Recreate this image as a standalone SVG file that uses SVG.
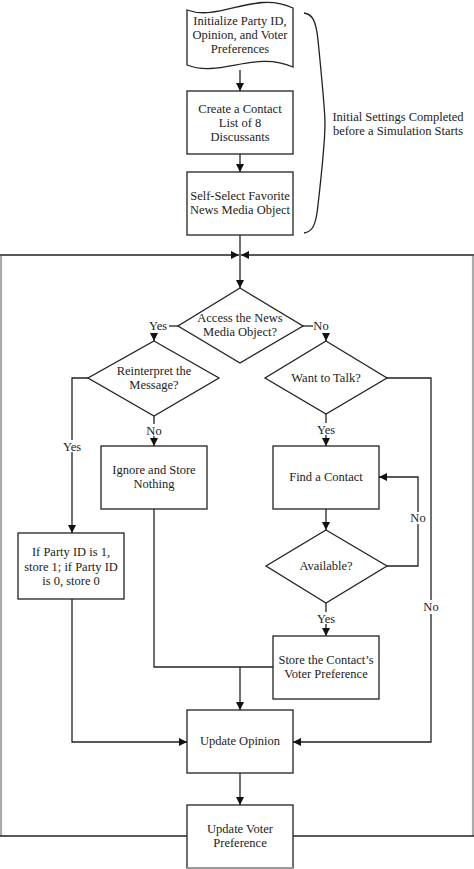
<svg xmlns="http://www.w3.org/2000/svg" width="474" height="869" viewBox="0 0 474 869">
<defs>
<style>
.s{fill:#fff;stroke:#222;stroke-width:1.3}
.c{fill:none;stroke:#222;stroke-width:1.3}
.t{font-family:"Liberation Serif","Times New Roman",serif;font-size:12.5px;fill:#222;text-anchor:middle}
</style>
<marker id="a" viewBox="0 0 10 10" refX="10" refY="5" markerWidth="8" markerHeight="8" markerUnits="userSpaceOnUse" orient="auto">
<path d="M0,0 L10,5 L0,10 z" fill="#111"/>
</marker>
</defs>
<rect width="474" height="869" fill="#fff"/>
<g id="connectors">
<path class="c" d="M240,70 V91" marker-end="url(#a)"/>
<path class="c" d="M240,154 V172" marker-end="url(#a)"/>
<path class="c" d="M240,235 V288" marker-end="url(#a)"/>
<path class="c" d="M0,255 H239" marker-end="url(#a)"/>
<path class="c" d="M474,255 H241" marker-end="url(#a)"/>
<line x1="1" y1="256" x2="1" y2="836" stroke="#aaa" stroke-width="2.2"/>
<line x1="473" y1="256" x2="473" y2="836" stroke="#aaa" stroke-width="2.2"/>
<path class="c" d="M187,836 H0"/>
<path class="c" d="M293,836 H474"/>
<path class="c" d="M178,326 H169"/>
<path class="c" d="M154,333 V341" marker-end="url(#a)"/>
<path class="c" d="M303,326 H313"/>
<path class="c" d="M326,333 V341" marker-end="url(#a)"/>
<path class="c" d="M88,378 H72 V440"/>
<path class="c" d="M72,452 V533" marker-end="url(#a)"/>
<path class="c" d="M154,416 V424"/>
<path class="c" d="M154,436 V446" marker-end="url(#a)"/>
<path class="c" d="M326,414 V423"/>
<path class="c" d="M326,435 V446" marker-end="url(#a)"/>
<path class="c" d="M326,509 V530" marker-end="url(#a)"/>
<path class="c" d="M387,566 H418 V524"/>
<path class="c" d="M418,512 V477 H379" marker-end="url(#a)"/>
<path class="c" d="M326,603 V612"/>
<path class="c" d="M326,624 V636" marker-end="url(#a)"/>
<path class="c" d="M387,378 H431 V600"/>
<path class="c" d="M431,614 V742 H293" marker-end="url(#a)"/>
<path class="c" d="M72,599 V742 H187" marker-end="url(#a)"/>
<path class="c" d="M154,509 V667 H273"/>
<path class="c" d="M240,667 V710" marker-end="url(#a)"/>
<path class="c" d="M240,773 V805" marker-end="url(#a)"/>
<path class="c" d="M304,13 C312,14 316,20 318,40 C322,80 325,110 325,123 C325,140 322,170 318,205 C316,226 312,232 304,233"/>
</g>
<g id="n1"><path class="s" d="M187,10 C220,22 255,-10 293,8 V67 C255,50 220,78 187,65 Z"/>
<text class="t" x="240" y="25">Initialize Party ID,</text><text class="t" x="240" y="39">Opinion, and Voter</text><text class="t" x="240" y="53">Preferences</text></g>
<g id="n2"><rect class="s" x="187" y="91" width="106" height="63"/>
<text class="t" x="240" y="113">Create a Contact</text><text class="t" x="240" y="127">List of 8</text><text class="t" x="240" y="141">Discussants</text></g>
<g id="n3"><rect class="s" x="187" y="172" width="106" height="63"/>
<text class="t" x="240" y="200">Self-Select Favorite</text><text class="t" x="240" y="214">News Media Object</text></g>
<g id="note"><text class="t" x="398" y="121">Initial Settings Completed</text><text class="t" x="398" y="135">before a Simulation Starts</text></g>
<g id="d1"><path class="s" d="M240,288 L303,326 L240,363 L178,326 Z"/>
<text class="t" x="240" y="322">Access the News</text><text class="t" x="240" y="336">Media Object?</text></g>
<text class="t" x="158" y="330">Yes</text>
<text class="t" x="321" y="330">No</text>
<g id="d2"><path class="s" d="M154,341 L219,378 L154,416 L88,378 Z"/>
<text class="t" x="154" y="375">Reinterpret the</text><text class="t" x="154" y="389">Message?</text></g>
<g id="d3"><path class="s" d="M326,341 L387,378 L326,414 L265,378 Z"/>
<text class="t" x="326" y="382">Want to Talk?</text></g>
<text class="t" x="72" y="451">Yes</text>
<text class="t" x="154" y="435">No</text>
<text class="t" x="326" y="434">Yes</text>
<g id="n4"><rect class="s" x="101" y="446" width="106" height="63"/>
<text class="t" x="154" y="474">Ignore and Store</text><text class="t" x="154" y="488">Nothing</text></g>
<g id="n5"><rect class="s" x="273" y="446" width="106" height="63"/>
<text class="t" x="326" y="481">Find a Contact</text></g>
<g id="d4"><path class="s" d="M326,530 L387,566 L326,603 L266,566 Z"/>
<text class="t" x="326" y="570">Available?</text></g>
<text class="t" x="418" y="522">No</text>
<text class="t" x="326" y="623">Yes</text>
<text class="t" x="431" y="611">No</text>
<g id="n6"><rect class="s" x="18" y="533" width="106" height="66"/>
<text class="t" x="71" y="556">If Party ID is 1,</text><text class="t" x="71" y="571">store 1; if Party ID</text><text class="t" x="71" y="585">is 0, store 0</text></g>
<g id="n7"><rect class="s" x="273" y="636" width="106" height="63"/>
<text class="t" x="326" y="664">Store the Contact’s</text><text class="t" x="326" y="678">Voter Preference</text></g>
<g id="n8"><rect class="s" x="187" y="710" width="106" height="63"/>
<text class="t" x="240" y="745">Update Opinion</text></g>
<g id="n9"><rect class="s" x="187" y="805" width="106" height="63"/>
<text class="t" x="240" y="833">Update Voter</text><text class="t" x="240" y="847">Preference</text></g>
<line x1="187" y1="868" x2="293" y2="868" stroke="#aaa" stroke-width="1.5"/>
</svg>
